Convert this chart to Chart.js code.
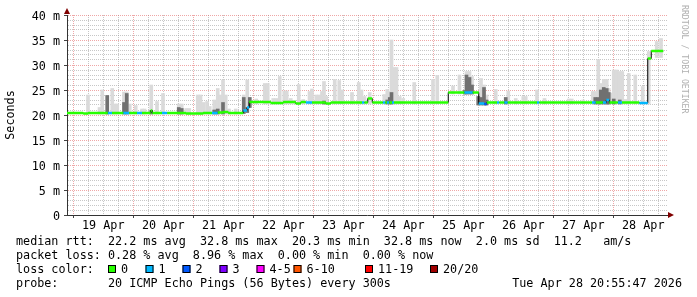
<!DOCTYPE html>
<html>
<head>
<meta charset="utf-8">
<script src="https://cdn.jsdelivr.net/npm/chart.js@4.4.1/dist/chart.umd.min.js"></script>
<style>
  html, body { margin: 0; padding: 0; background: #fff; }
</style>
</head>
<body>
<canvas id="smoke" width="697" height="297"></canvas>
<script>
// x values are hours counted from 19 Apr 00:00, the graph spans the last 10 days
const dayLabels = ['19 Apr', '20 Apr', '21 Apr', '22 Apr', '23 Apr', '24 Apr', '25 Apr', '26 Apr', '27 Apr', '28 Apr'];
const xMin = -2.5;
const xMax = 237.5;

// median rtt (ms), one entry per stretch with its loss count
const medStart = [-2.5, 4, 6, 13.8, 15.5, 20, 22.4, 25.5, 27.5, 31, 31.6, 35.5, 37.6, 45, 52, 55.5, 57.8, 60, 62, 68, 69.5, 70.4, 79, 84, 89, 91, 93, 95.5, 101, 103, 115.5, 116.5, 117.8, 119.6, 123.8, 124.8, 125.5, 126.4, 127.5, 128.3, 150, 156.4, 159.8, 162.2, 164.4, 165.4, 169.5, 170.4, 172.4, 173.8, 185.5, 186.4, 207.5, 209, 211.8, 213.2, 214.4, 217.8, 219.5, 226.4, 229.8, 231.2];
const medEnd   = [4, 6, 13.8, 15.5, 20, 22.4, 25.5, 27.5, 31, 31.6, 35.5, 37.6, 45, 52, 55.5, 57.8, 60, 62, 68, 69.5, 70.4, 79, 84, 89, 91, 93, 95.5, 101, 103, 115.5, 116.5, 117.8, 119.6, 123.8, 124.8, 125.5, 126.4, 127.5, 128.3, 150, 156.4, 159.8, 162.2, 164.4, 165.4, 169.5, 170.4, 172.4, 173.8, 185.5, 186.4, 207.5, 209, 211.8, 213.2, 214.4, 217.8, 219.5, 226.4, 229.8, 231.2, 236];
const medValue = [20.4, 20.3, 20.4, 20.4, 20.4, 20.4, 20.4, 20.4, 20.4, 20.9, 20.4, 20.4, 20.4, 20.3, 20.4, 20.4, 20.5, 20.6, 20.4, 20.9, 21.5, 22.6, 22.4, 22.6, 22.3, 22.6, 22.5, 22.5, 22.3, 22.5, 22.5, 22.5, 23.3, 22.5, 22.5, 22.5, 22.5, 22.5, 22.5, 22.5, 24.5, 24.5, 24.5, 22.3, 22.2, 22.5, 22.5, 22.5, 22.5, 22.5, 22.5, 22.5, 22.5, 22.5, 22.5, 23.0, 22.5, 22.5, 22.5, 22.4, 31.3, 32.8];
const medLoss  = [0, 0, 0, 1, 0, 1, 0, 1, 0, 0, 0, 1, 0, 0, 0, 1, 0, 0, 0, 1, 1, 0, 0, 0, 0, 0, 1, 0, 0, 0, 1, 0, 0, 0, 1, 0, 1, 0, 1, 0, 0, 1, 0, 1, 2, 0, 1, 0, 1, 0, 1, 0, 1, 0, 1, 1, 0, 1, 0, 1, 0, 0];

// smoke: spread of the 20 pings (ms) at sampled moments
const smokeHour = [5.9, 10.5, 11.6, 13.6, 15.6, 16.6, 17.6, 20.3, 21.4, 22.6, 25.0, 27.5, 28.5, 31.2, 33.5, 35.9, 42.2, 43.4, 45.2, 46.4,
  49.8, 50.9, 52.0, 53.5, 54.6, 56.4, 57.8, 59.0, 59.9, 61.0, 62.3, 65.0, 68.2, 69.6, 70.6, 73.2, 76.6, 77.8, 80.0, 81.2, 82.6, 84.4, 85.4, 87.0, 88.4, 90.2, 92.0,
  94.5, 95.5, 97.2, 98.4, 99.5, 100.3, 101.2, 104.6, 106.4, 107.6, 111.5, 114.2, 115.3, 116.5, 118.6, 124.4, 125.6, 126.6, 127.3, 128.4, 129.3, 130.6, 132.0, 136.4,
  143.9, 145.6, 151.9, 154.5, 156.6, 157.3, 158.5, 159.5, 162.0, 163.1, 164.3, 165.3, 169.0, 173.0, 174.0, 177.0, 180.0, 181.0, 185.5, 188.5,
  198.2, 199.4, 204.0, 207.8, 208.8, 210.0, 211.0, 212.2, 213.4, 214.2, 215.0, 216.2, 217.4, 218.6, 219.6, 221.0, 222.2, 224.8, 227.8, 230.2, 233.4, 235.1];
const smokeLow = [20.2, 20.2, 20.2, 20.2, 20.2, 20.2, 20.2, 20.2, 20.2, 20.2, 20.2, 20.2, 20.2, 20.2, 20.2, 20.2, 20.2, 20.2, 20.2, 20.2,
  20.2, 20.2, 20.2, 20.2, 20.2, 20.2, 20.2, 20.2, 20.2, 20.2, 20.2, 20.2, 20.3, 20.5, 21.5, 22.2, 22.2, 22.2, 22.2, 22.2, 22.2, 22.2, 22.2, 22.2, 22.2, 22.2, 22.2,
  22.2, 22.2, 22.2, 22.2, 22.2, 22.2, 22.2, 22.2, 22.2, 22.2, 22.2, 22.2, 22.2, 22.2, 22.2, 22.2, 22.2, 22.2, 22.2, 22.2, 22.2, 22.2, 22.2, 22.2,
  22.2, 22.2, 24.2, 24.2, 24.2, 24.2, 24.2, 24.2, 22.0, 22.0, 22.0, 22.0, 22.2, 22.2, 22.2, 22.2, 22.2, 22.2, 22.2, 22.2,
  22.2, 22.2, 22.2, 22.2, 22.2, 22.2, 22.2, 22.2, 22.2, 22.2, 22.2, 22.2, 22.2, 22.2, 22.2, 22.2, 22.2, 22.2, 22.2, 22.2, 31.5, 31.5];
const smokeHigh = [24.0, 21.5, 25.0, 23.9, 25.3, 22.2, 22.2, 24.6, 24.6, 22.2, 21.9, 21.2, 21.2, 26.0, 22.7, 24.3, 22.2, 22.2, 21.3, 21.3,
  24.0, 24.0, 22.5, 22.7, 21.7, 23.0, 25.3, 24.0, 27.0, 24.0, 21.2, 21.2, 24.0, 27.0, 23.5, 23.2, 26.3, 26.3, 23.3, 23.3, 27.7, 24.8, 24.8, 23.3, 22.9, 26.1, 23.1,
  24.7, 25.2, 24.0, 24.0, 24.7, 26.7, 23.7, 27.1, 26.9, 25.0, 24.5, 26.5, 25.0, 23.7, 24.5, 24.1, 25.1, 24.7, 35.0, 29.5, 29.5, 23.7, 23.3, 26.5,
  27.1, 27.9, 25.8, 28.0, 24.9, 28.7, 28.7, 27.7, 23.7, 27.3, 26.0, 24.0, 25.1, 23.5, 24.8, 23.3, 23.7, 23.7, 25.0, 23.3,
  23.2, 23.2, 23.0, 24.7, 24.7, 31.1, 26.3, 27.1, 27.1, 25.3, 24.4, 29.0, 29.0, 28.7, 28.7, 23.1, 28.3, 28.0, 25.7, 32.7, 34.7, 35.3];
// top of the dense (dark) part of the smoke, 0 where there is none
const smokeDark = [0, 0, 0, 23.9, 0, 0, 0, 22.5, 24.3, 0, 0, 0, 0, 20.9, 0, 0, 21.5, 21.3, 0, 0,
  0, 0, 0, 0, 0, 21.0, 21.2, 0, 22.5, 0, 0, 0, 23.5, 21.5, 23.5, 0, 0, 0, 0, 0, 0, 0, 0, 0, 0, 0, 0,
  0, 0, 0, 0, 0, 22.8, 0, 0, 0, 0, 0, 0, 0, 0, 0, 0, 23.0, 23.5, 24.5, 0, 0, 0, 0, 0,
  0, 0, 0, 0, 24.9, 28.0, 27.5, 26.0, 23.7, 23.5, 25.5, 23.0, 0, 23.5, 0, 0, 0, 0, 0, 0,
  0, 0, 0, 0, 23.5, 23.5, 25.0, 25.5, 25.3, 24.5, 0, 23.2, 0, 23.0, 0, 0, 0, 0, 0, 0, 0, 0];

const lossLabels = ['0', '1', '2', '3', '4-5', '6-10', '11-19', '20/20'];
const lossColors = ['#26ff00', '#00b8ff', '#0059ff', '#7e00ff', '#ff00ff', '#ff5500', '#ff0000', '#a00000'];

const statLines = [
  'median rtt:  22.2 ms avg  32.8 ms max  20.3 ms min  32.8 ms now  2.0 ms sd  11.2   am/s',
  'packet loss: 0.28 % avg  8.96 % max  0.00 % min  0.00 % now'
];
const probeText = 'probe:       20 ICMP Echo Pings (56 Bytes) every 300s';
const stampText = 'Tue Apr 28 20:55:47 2026';

const MONO = "'DejaVu Sans Mono', monospace";
const gridMinor = 'rgba(143,143,143,0.5)';
const gridMajor = 'rgba(224,80,80,0.5)';

// build the datasets
const lightBars = smokeHour.map((h, i) => ({ x: h, y: [smokeLow[i], smokeHigh[i]] }));
const darkBars = [];
smokeHour.forEach((h, i) => {
  if (smokeDark[i]) darkBars.push({ x: h, y: [smokeLow[i], smokeDark[i]] });
});

const stepLine = medStart.map((s, i) => ({ x: s, y: medValue[i] }));
stepLine.push({ x: medEnd[medEnd.length - 1], y: medValue[medValue.length - 1] });

const lossLines = {};
medStart.forEach((s, i) => {
  const k = medLoss[i];
  if (!lossLines[k]) lossLines[k] = [];
  lossLines[k].push({ x: s, y: medValue[i] }, { x: medEnd[i], y: medValue[i] }, { x: medEnd[i], y: null });
});

const datasets = [
  { type: 'bar', data: lightBars, backgroundColor: '#dadada', barThickness: 3, grouped: false, order: 4 },
  { type: 'bar', data: darkBars, backgroundColor: '#707070', barThickness: 3, grouped: false, order: 3 },
  { type: 'line', data: stepLine, borderColor: '#000', borderWidth: 1, stepped: true, pointRadius: 0, order: 2 }
];
Object.keys(lossLines).forEach(k => {
  datasets.push({
    type: 'line', data: lossLines[k], borderColor: lossColors[k], borderWidth: 2.5,
    borderCapStyle: 'butt', pointRadius: 0, spanGaps: false, order: 1
  });
});

const xGrid = [];
for (let h = 0; h <= 234; h += 6) xGrid.push(h);
const yGrid = [];
for (let v = 0; v <= 40; v++) yGrid.push(v);

const decor = {
  id: 'decor',
  afterDraw(chart) {
    const ctx = chart.ctx;
    const { left, top, right, bottom } = chart.chartArea;
    ctx.save();

    // axis arrows
    ctx.fillStyle = '#800000';
    ctx.beginPath();
    ctx.moveTo(left - 3, top - 1);
    ctx.lineTo(left + 3, top - 1);
    ctx.lineTo(left, top - 7);
    ctx.closePath();
    ctx.fill();
    ctx.beginPath();
    ctx.moveTo(right + 1, bottom - 3);
    ctx.lineTo(right + 1, bottom + 3);
    ctx.lineTo(right + 7, bottom);
    ctx.closePath();
    ctx.fill();

    ctx.fillStyle = '#000';
    ctx.font = '11.75px ' + MONO;
    ctx.textBaseline = 'middle';

    // y title
    ctx.save();
    ctx.translate(11, 115);
    ctx.rotate(-Math.PI / 2);
    ctx.textAlign = 'center';
    ctx.fillText('Seconds', 0, 0);
    ctx.restore();

    // stats text
    ctx.textAlign = 'left';
    ctx.fillText(statLines[0], 16, 242);
    ctx.fillText(statLines[1], 16, 256);
    ctx.fillText('loss color:', 16, 270);
    const sqX = [108, 145.5, 182.5, 219.5, 256.5, 293.5, 365, 430];
    lossLabels.forEach((lab, i) => {
      ctx.fillStyle = lossColors[i];
      ctx.fillRect(sqX[i], 265, 8, 8);
      ctx.strokeStyle = '#000';
      ctx.lineWidth = 1;
      ctx.strokeRect(sqX[i] + 0.5, 265.5, 7, 7);
      ctx.fillStyle = '#000';
      ctx.fillText(lab, sqX[i] + 13, 270);
    });
    ctx.fillText(probeText, 16, 284);
    ctx.textAlign = 'right';
    ctx.fillText(stampText, 682, 284);

    // watermark
    ctx.translate(684, 5);
    ctx.rotate(Math.PI / 2);
    ctx.textAlign = 'left';
    ctx.fillStyle = '#b0b0b0';
    ctx.font = '8.2px ' + MONO;
    ctx.fillText('RRDTOOL / TOBI OETIKER', 0, 0);
    ctx.restore();
  }
};

new Chart(document.getElementById('smoke').getContext('2d'), {
  type: 'bar',
  data: { datasets },
  options: {
    responsive: false,
    devicePixelRatio: 1,
    animation: false,
    font: { family: MONO, size: 11.75 },
    color: '#000',
    layout: { padding: { top: 15, right: 30, left: 0, bottom: 0 } },
    plugins: { legend: { display: false }, tooltip: { enabled: false } },
    scales: {
      x: {
        type: 'linear',
        min: xMin,
        max: xMax,
        offset: false,
        afterBuildTicks: s => { s.ticks = xGrid.map(v => ({ value: v })); },
        afterFit: s => { s.height = 82; },
        ticks: {
          autoSkip: false,
          maxRotation: 0,
          padding: 1,
          color: '#000',
          font: { family: MONO, size: 11.75 },
          callback: v => (v % 24 === 12 ? dayLabels[(v - 12) / 24] : '')
        },
        grid: {
          offset: false,
          color: c => (c.tick && c.tick.value % 24 === 0 ? gridMajor : gridMinor),
          tickColor: c => (c.tick && c.tick.value % 24 === 0 ? '#444' : 'rgba(0,0,0,0)'),
          tickLength: 3
        },
        border: { color: '#333', width: 1, dash: [1, 1] }
      },
      y: {
        min: 0,
        max: 40,
        afterBuildTicks: s => { s.ticks = yGrid.map(v => ({ value: v })); },
        afterFit: s => { s.width = 67; },
        ticks: {
          autoSkip: false,
          padding: 4,
          labelOffset: 1.5,
          color: '#000',
          font: { family: MONO, size: 11.75 },
          callback: v => (v % 5 !== 0 ? '' : (v === 0 ? '0' : v + ' m'))
        },
        grid: {
          color: c => (c.tick && c.tick.value % 5 === 0 ? gridMajor : gridMinor),
          tickColor: c => (c.tick && c.tick.value % 5 === 0 ? '#444' : 'rgba(0,0,0,0)'),
          tickLength: 3
        },
        border: { color: '#333', width: 1, dash: [1, 1] }
      }
    }
  },
  plugins: [decor]
});
</script>
</body>
</html>
